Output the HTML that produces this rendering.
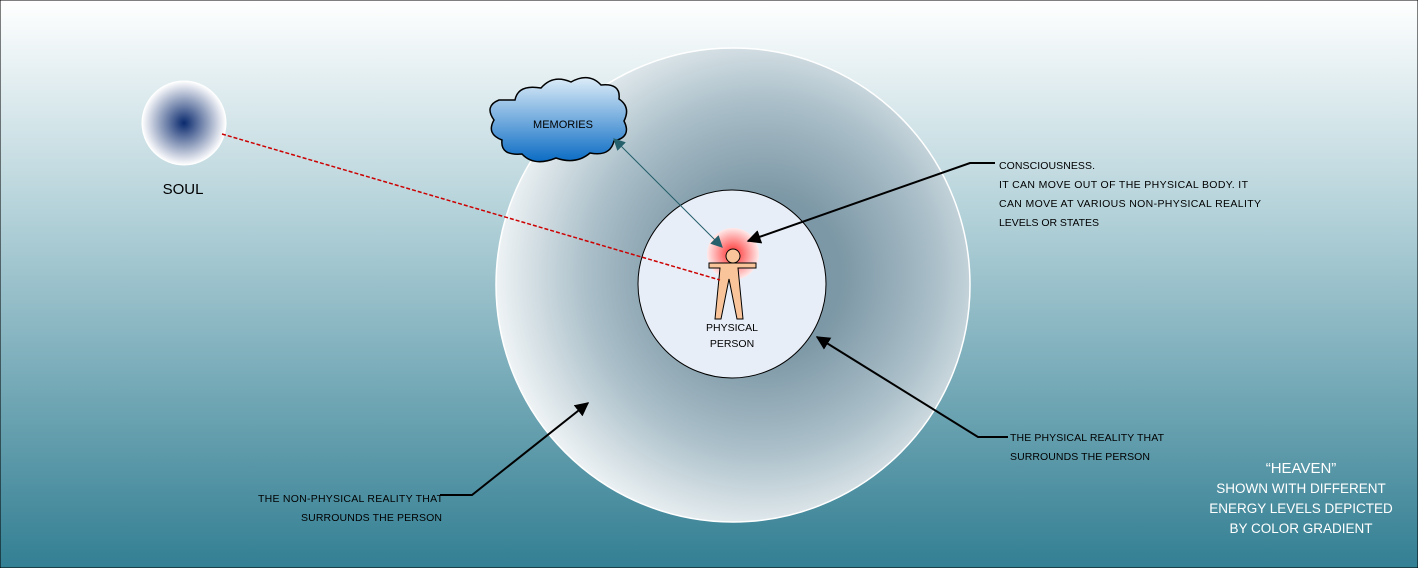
<html><body style="margin:0"><svg width="1418" height="568" xmlns="http://www.w3.org/2000/svg" font-family="Liberation Sans, sans-serif">
<defs>
<linearGradient id="bg" x1="0" y1="0" x2="0" y2="1"><stop offset="0" stop-color="#ffffff"/><stop offset="0.35" stop-color="#b9d5dc"/><stop offset="1" stop-color="#337f93"/></linearGradient>
<radialGradient id="big" cx="0.56" cy="0.48" r="0.56"><stop offset="0.3" stop-color="#7c97a5"/><stop offset="0.65" stop-color="#a9bec8"/><stop offset="1" stop-color="#eef3f5"/></radialGradient>
<radialGradient id="soul"><stop offset="0" stop-color="#0a2a6e"/><stop offset="1" stop-color="#ffffff"/></radialGradient>
<radialGradient id="glow"><stop offset="0" stop-color="#ff2a2a"/><stop offset="1" stop-color="#ffeaea"/></radialGradient>
<linearGradient id="cloud" x1="0" y1="0" x2="0" y2="1"><stop offset="0" stop-color="#dcecf8"/><stop offset="1" stop-color="#0b6cc4"/></linearGradient>
<marker id="ab" viewBox="0 0 10 10" refX="9" refY="5" markerWidth="7" markerHeight="7" orient="auto-start-reverse"><path d="M0 0L10 5L0 10z" fill="#000"/></marker>
<marker id="at" viewBox="0 0 10 10" refX="9" refY="5" markerWidth="12" markerHeight="12" orient="auto-start-reverse"><path d="M0 0L10 5L0 10z" fill="#25606c"/></marker>
</defs>
<rect width="1418" height="568" fill="url(#bg)" stroke="#000"/>
<circle cx="733" cy="285" r="237" fill="url(#big)" stroke="#fff" stroke-width="1.5"/>
<circle cx="732" cy="284" r="94" fill="#e8eef7" stroke="#000"/>
<circle cx="184" cy="123" r="42" fill="url(#soul)" stroke="#fff"/>
<text x="183" y="194" font-size="15" text-anchor="middle" fill="#000">SOUL</text>
<path d="M515 100 q3-16 26-12 q12-14 30-6 q18-10 30 3 q20-2 18 14 q12 8 5 22 q8 16-10 20 q-4 16-24 12 q-14 12-34 5 q-22 9-34-4 q-22 2-20-14 q-16-6-8-20 q-10-14 5-20 z" fill="url(#cloud)" stroke="#000" stroke-width="1.5"/>
<text x="563" y="128" font-size="11" text-anchor="middle">MEMORIES</text>
<circle cx="733" cy="254" r="26" fill="url(#glow)"/>
<circle cx="733" cy="256" r="7" fill="#f9c49a" stroke="#000"/>
<path d="M709 263h47v5h-18l5 51h-6l-8-40l-8 40h-6l5-51h-11z" fill="#f9c49a" stroke="#000" stroke-width="1"/>
<text x="732" y="331" font-size="10.5" text-anchor="middle">PHYSICAL</text>
<text x="732" y="347" font-size="10.5" text-anchor="middle">PERSON</text>
<line x1="222" y1="134" x2="720" y2="280" stroke="#c00" stroke-width="1.5" stroke-dasharray="4,2"/>
<line x1="614" y1="139" x2="722" y2="247" stroke="#25606c" stroke-width="1" marker-start="url(#at)" marker-end="url(#at)"/>
<polyline points="995,163 970,163 748,241" fill="none" stroke="#000" stroke-width="2" marker-end="url(#ab)"/>
<polyline points="1008,437 978,437 817,337" fill="none" stroke="#000" stroke-width="2" marker-end="url(#ab)"/>
<polyline points="440,495 472,495 588,403" fill="none" stroke="#000" stroke-width="2" marker-end="url(#ab)"/>
<g font-size="10.5" fill="#000">
<text x="999" y="169" textLength="96">CONSCIOUSNESS.</text>
<text x="999" y="188" textLength="249">IT CAN MOVE OUT OF THE PHYSICAL BODY.  IT</text>
<text x="999" y="207" textLength="262">CAN MOVE AT VARIOUS NON-PHYSICAL REALITY</text>
<text x="999" y="226" textLength="100">LEVELS OR STATES</text>
<text x="1010" y="441" textLength="154">THE PHYSICAL REALITY THAT</text>
<text x="1010" y="460" textLength="140">SURROUNDS THE PERSON</text>
<text x="258" y="502" textLength="185">THE NON-PHYSICAL REALITY THAT</text>
<text x="301" y="521" textLength="141">SURROUNDS THE PERSON</text>
</g>
<g font-size="13.5" fill="#fff" text-anchor="middle">
<text x="1301" y="473" font-size="15">“HEAVEN”</text>
<text x="1301" y="493">SHOWN WITH DIFFERENT</text>
<text x="1301" y="513">ENERGY LEVELS DEPICTED</text>
<text x="1301" y="533">BY COLOR GRADIENT</text>
</g>
</svg></body></html>
